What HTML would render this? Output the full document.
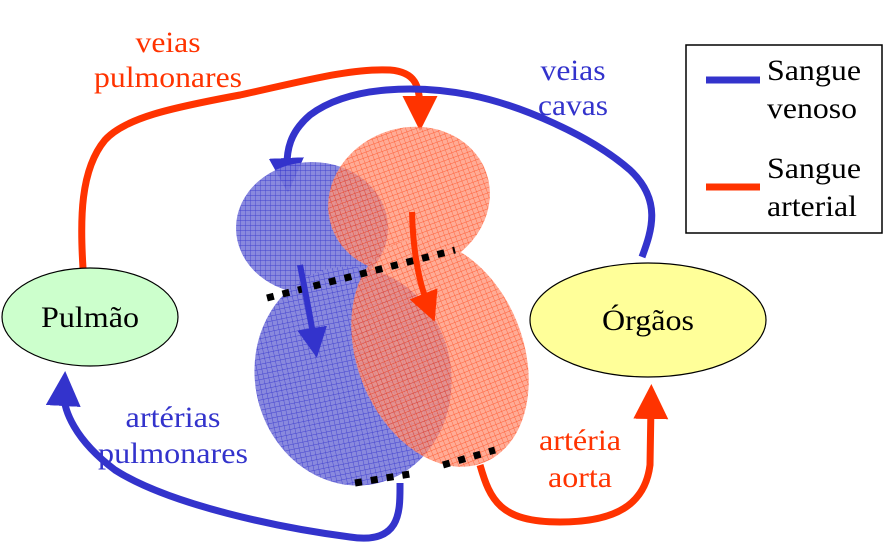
<!DOCTYPE html>
<html><head><meta charset="utf-8"><style>html,body{margin:0;padding:0;background:#fff}svg{display:block}</style></head>
<body>
<svg width="890" height="555" viewBox="0 0 890 555" xmlns="http://www.w3.org/2000/svg" font-family="'Liberation Serif', serif">
<defs>
<pattern id="gb" width="5" height="5" patternUnits="userSpaceOnUse"><rect width="5" height="5" fill="#7f7fdc"/><path d="M0 0H5M0 0V5" stroke="#3333cc" stroke-width="0.9"/></pattern>
<pattern id="gr" width="5" height="5" patternUnits="userSpaceOnUse"><rect width="5" height="5" fill="#ff9478"/><path d="M0 0H5M0 0V5" stroke="#ff3300" stroke-width="0.9"/></pattern>
<marker id="ab" viewBox="0 0 10 10" refX="4" refY="5" markerWidth="5" markerHeight="5" orient="auto"><path d="M0 0L10 5L0 10z" fill="#3333cc"/></marker>
<marker id="ar" viewBox="0 0 10 10" refX="4" refY="5" markerWidth="5" markerHeight="5" orient="auto"><path d="M0 0L10 5L0 10z" fill="#ff3300"/></marker>
</defs>

<!-- outer arrows -->
<path d="M83 268 C80 220 80 170 105 140 C125 118 170 108 240 95 C300 82 350 68 390 70 C415 72 420 85 420 110" fill="none" stroke="#ff3300" stroke-width="7" marker-end="url(#ar)"/>
<path d="M642 257 C652 230 662 200 630 170 C590 135 520 105 470 95 C420 85 350 85 310 115 C290 132 286 150 287 172" fill="none" stroke="#3333cc" stroke-width="7" marker-end="url(#ab)"/>
<path d="M400 483 C400 510 402 545 350 537 C280 528 170 505 115 470 C75 440 63 410 64 392" fill="none" stroke="#3333cc" stroke-width="7" marker-end="url(#ab)"/>
<path d="M480 465 C490 500 500 522 560 522 C615 522 645 505 650 465 L651 405" fill="none" stroke="#ff3300" stroke-width="7" marker-end="url(#ar)"/>

<!-- heart -->
<g opacity="0.92">
<ellipse cx="312" cy="228" rx="76" ry="66" fill="url(#gb)"/>
<ellipse cx="353" cy="376" rx="98" ry="110" transform="rotate(-12 353 376)" fill="url(#gb)"/>
</g>
<g opacity="0.78">
<ellipse cx="409" cy="200" rx="82" ry="72" transform="rotate(-20 409 200)" fill="url(#gr)"/>
<ellipse cx="440" cy="353" rx="83" ry="118" transform="rotate(-22 440 353)" fill="url(#gr)"/>
</g>

<!-- dotted valves -->
<g stroke="#000" stroke-width="7" stroke-dasharray="7 9" fill="none">
<path d="M267 298 L455 250"/>
<path d="M355 483 L410 474"/>
<path d="M443 465 L495 450"/>
</g>

<!-- internal arrows -->
<path d="M300 265 C305 290 310 315 314 340" fill="none" stroke="#3333cc" stroke-width="6" marker-end="url(#ab)"/>
<path d="M412 212 C413 250 418 280 428 305" fill="none" stroke="#ff3300" stroke-width="6" marker-end="url(#ar)"/>

<!-- nodes -->
<ellipse cx="90" cy="317" rx="88" ry="49" fill="#ccffcc" stroke="#000" stroke-width="1.2"/>
<text x="90" y="327" font-size="30" text-anchor="middle" textLength="98" lengthAdjust="spacingAndGlyphs">Pulmão</text>
<ellipse cx="648" cy="320" rx="118" ry="57" fill="#ffff99" stroke="#000" stroke-width="1.2"/>
<text x="648" y="330" font-size="30" text-anchor="middle" textLength="92" lengthAdjust="spacingAndGlyphs">Órgãos</text>

<!-- labels -->
<g font-size="30" text-anchor="middle">
<text x="168" y="52" fill="#ff3300" textLength="65" lengthAdjust="spacingAndGlyphs">veias</text>
<text x="168" y="87" fill="#ff3300" textLength="148" lengthAdjust="spacingAndGlyphs">pulmonares</text>
<text x="573" y="80" fill="#3333cc" textLength="65" lengthAdjust="spacingAndGlyphs">veias</text>
<text x="573" y="115" fill="#3333cc" textLength="70" lengthAdjust="spacingAndGlyphs">cavas</text>
<text x="173" y="427" fill="#3333cc" textLength="95" lengthAdjust="spacingAndGlyphs">artérias</text>
<text x="173" y="463" fill="#3333cc" textLength="150" lengthAdjust="spacingAndGlyphs">pulmonares</text>
<text x="580" y="450" fill="#ff3300" textLength="82" lengthAdjust="spacingAndGlyphs">artéria</text>
<text x="580" y="487" fill="#ff3300" textLength="64" lengthAdjust="spacingAndGlyphs">aorta</text>
</g>

<!-- legend -->
<rect x="686" y="45" width="196" height="188" fill="#fff" stroke="#000" stroke-width="1.5"/>
<line x1="706" y1="80" x2="760" y2="80" stroke="#3333cc" stroke-width="7"/>
<line x1="706" y1="187" x2="760" y2="187" stroke="#ff3300" stroke-width="7"/>
<g font-size="30">
<text x="767" y="80" textLength="94" lengthAdjust="spacingAndGlyphs">Sangue</text>
<text x="767" y="118" textLength="90" lengthAdjust="spacingAndGlyphs">venoso</text>
<text x="767" y="178" textLength="94" lengthAdjust="spacingAndGlyphs">Sangue</text>
<text x="767" y="216" textLength="90" lengthAdjust="spacingAndGlyphs">arterial</text>
</g>
</svg>
</body></html>
